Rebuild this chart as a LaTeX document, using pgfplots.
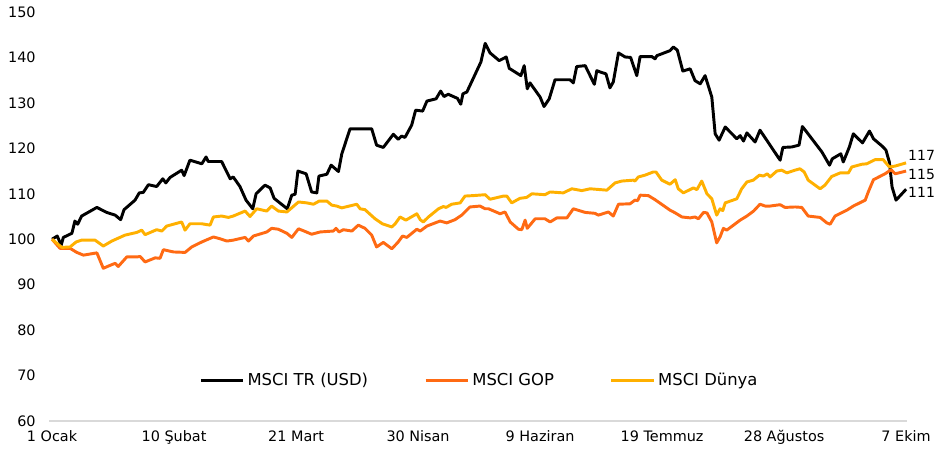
\documentclass[border=0pt]{standalone}
\usepackage{fontspec}
\setmainfont{DejaVu Sans}
\usepackage{pgfplots}
\pgfplotsset{compat=1.18}

\definecolor{trblack}{HTML}{000000}
\definecolor{gop}{HTML}{FF6A13}
\definecolor{dunya}{HTML}{FFB000}

\begin{document}
\begin{tikzpicture}
% fixed page frame round the axis box
\path[use as bounding box] (-36.75pt,-27pt) rectangle (663.75pt,315.75pt);
\begin{axis}[
  scale only axis,
  width=643.5pt, height=306.75pt,
  xmin=-1, xmax=280.3,
  ymin=60, ymax=150,
  xtick={0,40,80,120,160,200,240,280},
  xticklabels={1 Ocak, 10 Şubat, 21 Mart, 30 Nisan, 9 Haziran, 19 Temmuz, 28 Ağustos, 7 Ekim},
  ytick={60,70,...,150},
  axis x line*=bottom, axis y line*=left,
  x axis line style={draw=black!15, line width=0.8pt, -},
  y axis line style={draw=none},
  major tick length=0pt,
  tick label style={font=\fontsize{10.8}{13}\selectfont},
  /pgf/number format/assume math mode=true,
  yticklabel style={xshift=-6.5pt},
  xticklabel style={yshift=-3.5pt},
  clip=false,
  every axis plot/.append style={line width=2.2pt, line join=round},
  legend style={at={(rel axis cs:0.502,0.1)}, anchor=center, draw=none, fill=none,
    font=\fontsize{12.3}{14}\selectfont, legend columns=3,
    /tikz/every even column/.append style={column sep=40pt}},
  legend image code/.code={\draw[#1] (0pt,0pt) -- (32pt,0pt);},
]
% MSCI TR (USD)
\addplot[trblack] coordinates {
(0,100) (1.7,100.7) (3.0,98.7) (3.7,100.4) (6.5,101.3) (7.5,104) (8.4,103.3) (9.7,105.1)
(14.7,107) (17.9,105.9) (20.7,105.3) (22.5,104.3) (23.6,106.5) (27.2,108.6) (28.6,110.2)
(29.9,110.3) (31.6,112) (34.3,111.6) (36.3,113.3) (37.3,112.4) (38.7,113.6) (42.5,115.2)
(43.3,114) (45.2,117.4) (49.1,116.6) (50.5,118.1) (51.2,117.1) (55.6,117.1) (58.4,113.3)
(59.4,113.7) (61.6,111.6) (63.6,108.6) (65.8,106.7) (66.9,110) (69.8,111.9) (71.5,111.3)
(72.8,109) (77.1,106.7) (78.6,109.7) (79.7,109.9) (80.6,115) (83.3,114.4) (85.1,110.4)
(86.8,110.2) (87.5,113.9) (90.1,114.3) (91.5,116.3) (93.9,114.9) (95.0,118.8) (97.7,124.3)
(104.8,124.3) (106.4,120.7) (108.6,120.2) (111.9,123.1) (113.5,122) (114.6,122.7) (115.7,122.4)
(117.9,125.1) (119.2,128.4) (121.5,128.2) (122.9,130.4) (125.9,130.9) (127.4,132.6) (128.5,131.4)
(129.9,131.9) (132.9,131) (134.0,129.7) (134.7,132) (136.0,132.4) (140.6,139) (142.0,143.1)
(143.6,141) (146.6,139.3) (148.9,140.1) (149.9,137.6) (153.7,136) (154.8,138.2) (155.8,133.1)
(156.7,134.4) (160.0,131.3) (161.3,129.2) (163.0,130.9) (164.9,135.1) (169.8,135.1) (170.9,134.4)
(172.0,138) (174.8,138.2) (175.8,136.8) (177.8,134.1) (178.6,137.1) (179.7,136.8) (181.6,136.4)
(182.9,133.3) (184.0,134.6) (185.7,141) (187.9,140.1) (189.7,140) (191.7,136) (192.8,140.2)
(196.6,140.2) (197.7,139.7) (198.3,140.4) (199.9,140.8) (202.6,141.5) (203.7,142.3) (205.0,141.6)
(206.8,137) (209.2,137.5) (210.8,134.9) (212.5,134.2) (214.1,136) (216.3,131.3) (217.4,123.2)
(218.7,121.8) (220.7,124.7) (224.5,122.1) (225.6,122.8) (226.7,121.6) (227.8,123.4) (230.5,121.4)
(232.1,124) (234.3,121.8) (238.7,117.4) (239.6,120.2) (242.5,120.3) (244.9,120.7) (246.0,124.8)
(247.4,123.6) (252.4,119.2) (254.9,116.3) (255.8,117.7) (258.6,118.8) (259.4,117) (260.5,118.8)
(261.4,120.3) (262.7,123.2) (265.7,121.2) (268.0,123.8) (269.3,122.1) (272.3,120.4) (273.4,119.6)
(274.5,117) (275.4,111.5) (276.7,108.6) (280.0,111)
};
\addlegendentry{MSCI TR (USD)}
% MSCI GOP
\addplot[gop] coordinates {
(0,100) (2.6,98) (5.9,98) (8.1,97.1) (10.3,96.5) (14.7,97) (16.8,93.6) (18.5,94.1) (20.7,94.7)
(21.7,94) (24.5,96.1) (27.8,96.1) (28.9,96.2) (30.5,95) (33.8,95.9) (35.4,95.8) (36.5,97.7)
(39.8,97.2) (43.6,97.1) (45.8,98.3) (49.1,99.4) (52.9,100.5) (55.1,100.1) (57.3,99.6) (59.4,99.8)
(63.3,100.4) (64.4,99.6) (66.0,100.7) (70.4,101.6) (72.0,102.4) (74.2,102.2) (77.0,101.3)
(78.6,100.4) (80.8,102.3) (83.0,101.7) (85.1,101.1) (86.8,101.4) (87.9,101.6) (92.2,101.8)
(93.1,102.4) (94.1,101.6) (95.5,102.1) (98.3,101.8) (100.4,103.1) (102.6,102.4) (104.8,100.9)
(106.4,98.3) (108.6,99.3) (111.4,97.9) (113.5,99.4) (114.9,100.7) (116.3,100.4) (119.6,102.2)
(120.7,101.8) (122.9,102.9) (127.2,104) (129.4,103.6) (132.1,104.3) (134.3,105.3) (137.0,107.1)
(140.3,107.3) (142.0,106.7) (143.1,106.7) (146.9,105.6) (148.5,106) (150.2,103.8) (152.9,102.2)
(154.0,102.1) (155.1,104.2) (155.8,102.4) (158.4,104.5) (161.6,104.5) (163.3,103.8) (165.5,104.7)
(168.8,104.7) (170.9,106.7) (174.8,105.9) (178.0,105.7) (179.1,105.3) (182.4,106) (184.0,105.1)
(185.7,107.7) (189.5,107.8) (191.1,108.6) (192.0,108.5) (192.8,109.7) (195.5,109.6) (197.7,108.7)
(202.6,106.4) (204.3,105.8) (206.5,104.9) (209.2,104.7) (210.8,104.9) (211.9,104.5) (213.6,105.9)
(214.7,105.8) (216.3,103.8) (217.9,99.2) (219.0,100.5) (220.1,102.4) (221.2,102) (225.6,104.2)
(227.8,105.1) (230.0,106.2) (232.1,107.7) (233.8,107.3) (235.4,107.3) (238.7,107.6) (240.3,107)
(243.6,107.1) (245.8,107) (247.9,105.1) (251.8,104.8) (254.0,103.6) (255.1,103.3) (256.7,105.1)
(260.6,106.4) (262.7,107.3) (266.6,108.6) (267.6,110.4) (269.3,113.1) (273.1,114.4) (275.1,115.3)
(276.4,114.4) (280.0,115)
};
\addlegendentry{MSCI GOP}
% MSCI Dunya
\addplot[dunya] coordinates {
(0,100) (3.2,98.2) (5.9,98.3) (7.9,99.4) (9.7,99.8) (14.1,99.8) (16.8,98.5) (19.6,99.6) (23.9,100.9)
(27.8,101.5) (29.4,102) (30.5,101) (34.3,102.1) (36.0,101.8) (37.6,102.9) (42.5,103.8) (43.6,102)
(45.2,103.4) (49.1,103.4) (51.8,103.1) (52.9,104.9) (55.6,105.1) (57.8,104.8) (59.4,105.1)
(63.3,106.2) (64.9,105) (67.1,106.7) (70.4,106.2) (72.0,107.3) (74.2,106.2) (77.0,106) (80.8,108.2)
(83.5,108) (85.7,107.7) (87.6,108.4) (90.1,108.4) (91.7,107.5) (93.3,107.3) (95.0,106.9) (99.9,107.7)
(101.0,106.7) (102.6,106.5) (105.9,104.5) (108.3,103.4) (111.4,102.7) (112.5,103.4) (114.1,104.9)
(116.0,104.2) (119.6,105.6) (120.7,104.3) (121.7,103.8) (123.4,104.9) (126.7,106.7) (128.3,107.2)
(129.2,107) (131.0,107.7) (133.8,108) (135.4,109.5) (138.1,109.6) (142.0,109.8) (143.6,108.8)
(148.0,109.5) (149.1,109.5) (150.7,108) (153.4,109) (155.6,109.2) (157.3,110) (161.6,109.8)
(163.3,110.4) (167.6,110.2) (170.4,111.1) (173.7,110.7) (176.4,111.1) (181.9,110.8) (184.6,112.4)
(186.8,112.8) (190.6,113) (191.1,112.8) (192.2,113.7) (194.4,114.1) (197.1,114.8) (198.0,114.8)
(199.9,113) (202.6,112.1) (204.3,113.1) (205.3,111.1) (207.0,110.2) (210.3,111.3) (211.4,110.9)
(213.0,112.8) (214.7,110) (216.3,108.9) (217.9,105.3) (219.0,106.7) (219.9,106.3) (220.7,108)
(224.5,108.9) (226.1,111.1) (227.8,112.6) (229.9,113) (231.9,114.1) (233.2,113.9) (234.5,114.4)
(235.4,113.7) (237.6,115) (239.2,115.2) (240.9,114.6) (243.6,115.2) (245.2,115.5) (246.6,114.8)
(247.9,113) (251.8,111.1) (253.4,111.9) (255.6,113.8) (258.4,114.6) (261.1,114.6) (262.2,115.9)
(265.5,116.5) (267.1,116.6) (269.8,117.5) (272.5,117.5) (274.5,115.9) (276.4,116.1) (280.0,116.8)
};
\addlegendentry{MSCI Dünya}
% end-of-series value labels
\node[anchor=west, font=\fontsize{10.5}{12}\selectfont, inner sep=0pt] at (axis cs:280.6,118.4) {117};
\node[anchor=west, font=\fontsize{10.5}{12}\selectfont, inner sep=0pt] at (axis cs:280.6,114.2) {115};
\node[anchor=west, font=\fontsize{10.5}{12}\selectfont, inner sep=0pt] at (axis cs:280.6,110.2) {111};
\end{axis}
\end{tikzpicture}
\end{document}
